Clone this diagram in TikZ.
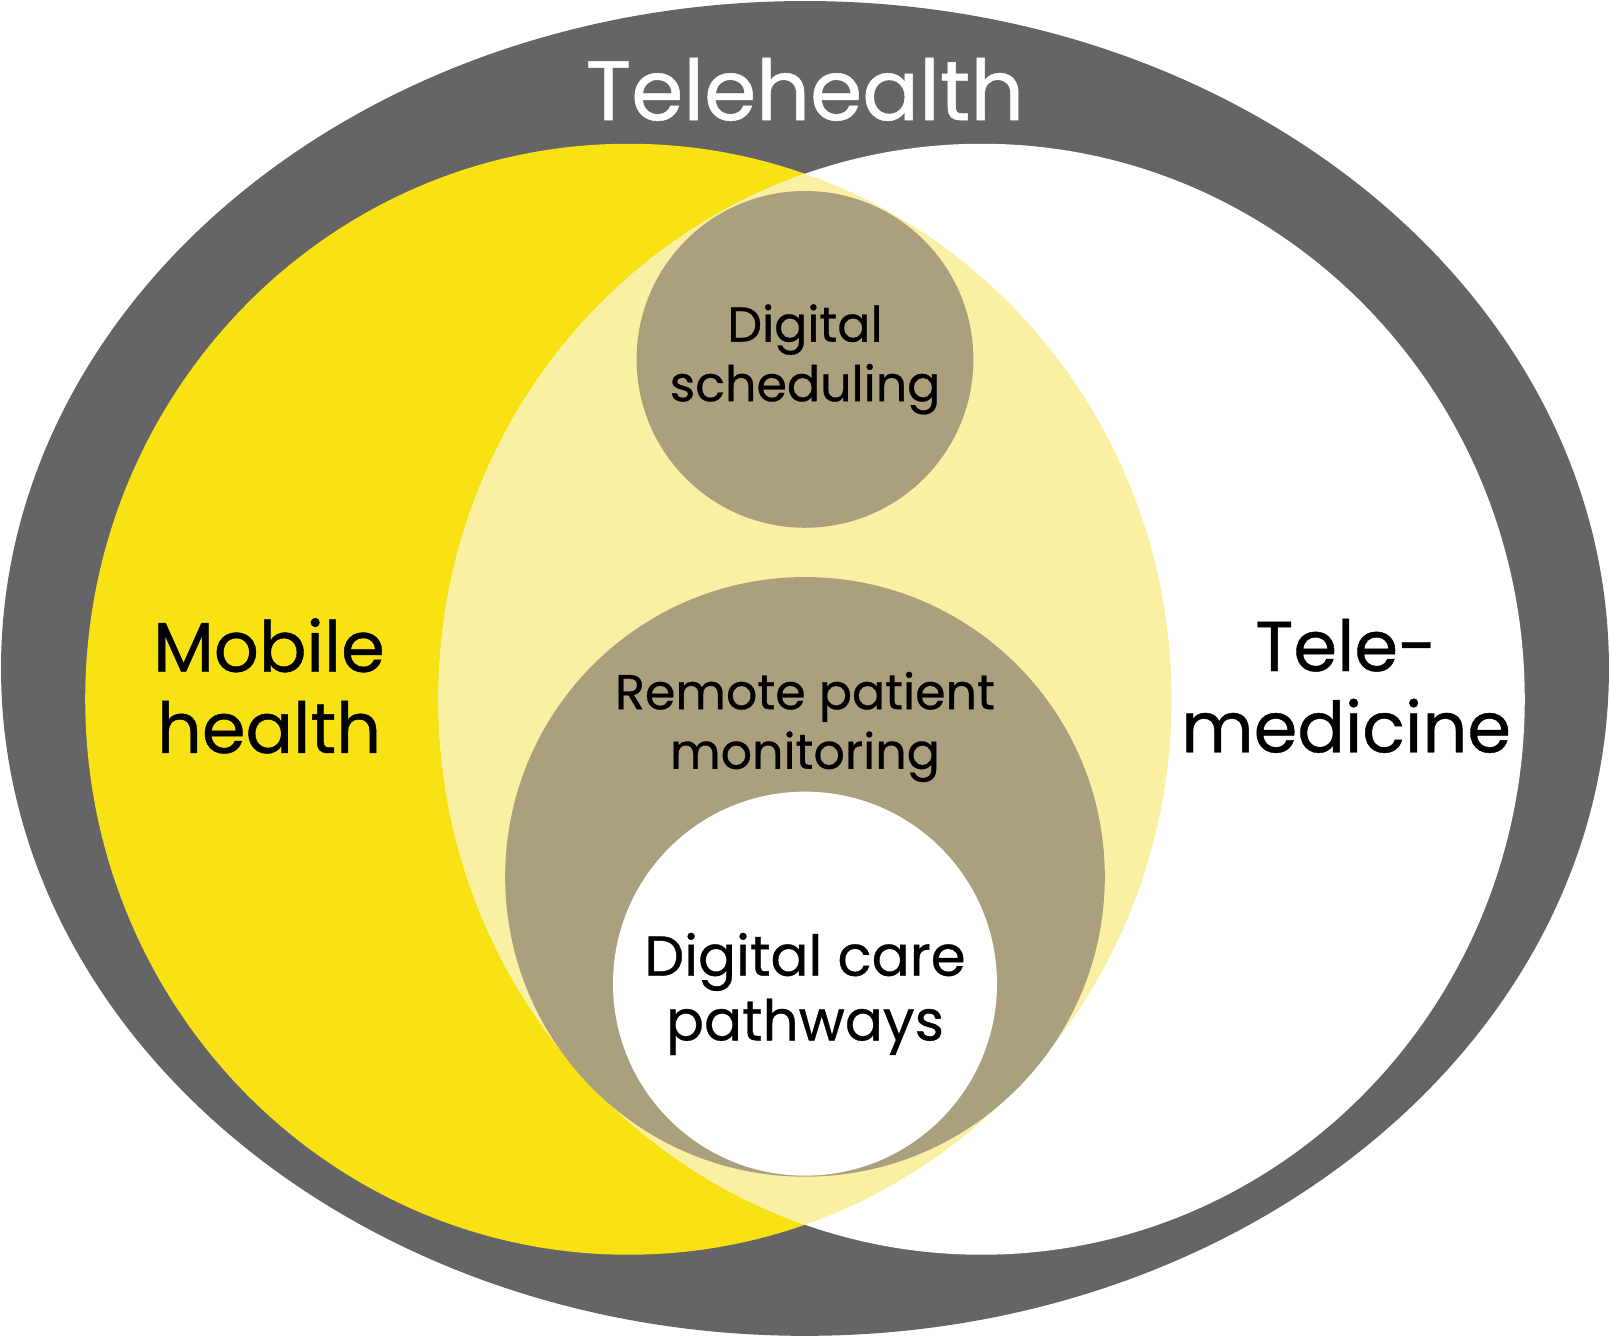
\documentclass[tikz,border=0pt]{standalone}
\usepackage{fontspec}
\setmainfont{Poppins}
\newfontfamily\popmed{Poppins}[UprightFeatures={FakeBold=0.6}]
\usepackage{tikz}
\usetikzlibrary{positioning}
\definecolor{telegray}{HTML}{656567}
\definecolor{mhyellow}{HTML}{F8E214}
\definecolor{paleyellow}{HTML}{FAF0A4}
\definecolor{mudbrown}{HTML}{ABA07E}

\begin{document}
\begin{tikzpicture}[
  x=0.01cm, y=-0.01cm,
  label/.style={align=center, text=black, inner sep=0pt},
  biglabel/.style={label, font=\popmed\fontsize{19.5}{22.5}\selectfont},
  smalllabel/.style={label, font=\popmed\fontsize{13.6}{16.5}\selectfont}
]
  \useasboundingbox (0,0) rectangle (1568,1303);
  % outer ring and the two overlapping fields
  \fill[telegray] (784,651) ellipse [x radius=783, y radius=650];
  \fill[mhyellow] (612,681) ellipse [x radius=529, y radius=541];
  \fill[white] (956,681) ellipse [x radius=529, y radius=541];
  \begin{scope}
    \clip (612,681) ellipse [x radius=529, y radius=541];
    \fill[paleyellow] (956,681) ellipse [x radius=529, y radius=541];
  \end{scope}
  % inner circles
  \fill[mudbrown] (784,350) circle [radius=164];
  \fill[mudbrown] (784,854) circle [radius=292];
  \fill[white] (784,958) circle [radius=187];

  \node[label, text=white, font=\popmed\fontsize{23.3}{26}\selectfont] (tele) at (784,87) {Telehealth};
  \node[biglabel] (mobile) at (262,668) {Mobile\\health};
  \node[biglabel] (medicine) at (1311,668) {Tele-\\medicine};
  \node[smalllabel] (sched) at (784,350) {Digital\\scheduling};
  \node[smalllabel] (remote) at (784,708) {Remote patient\\monitoring};
  \node[label, font=\popmed\fontsize{15.6}{17.9}\selectfont] (pathways) at (784,968) {Digital care\\pathways};
\end{tikzpicture}
\end{document}
